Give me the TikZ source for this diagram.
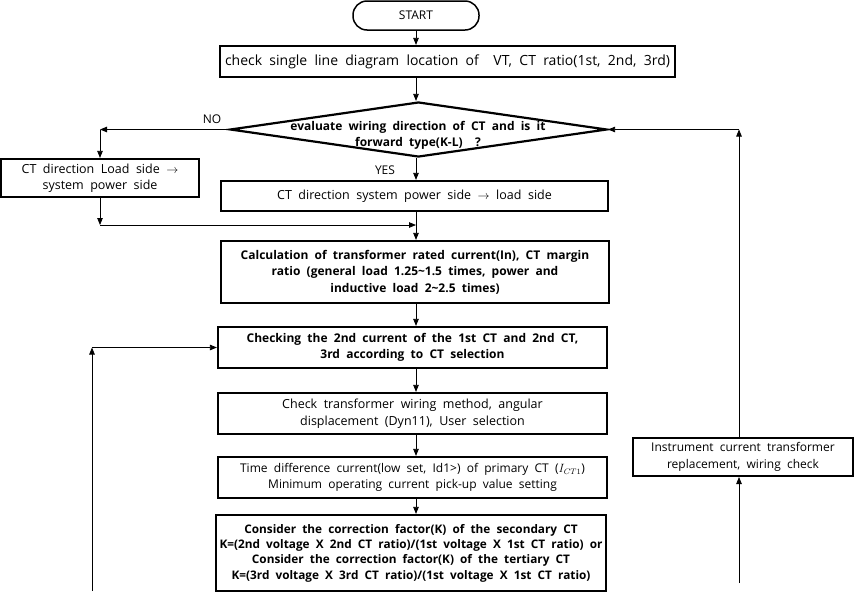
\documentclass[tikz,border=0pt]{standalone}
\usepackage{fontspec}
\setmainfont[WordSpace=2]{Open Sans}
\usetikzlibrary{arrows.meta,shapes.geometric}
\begin{document}
\begin{tikzpicture}[x=1pt,y=-1pt,
  box/.style={draw, line width=2.2pt, inner sep=0pt, align=center,
    font=\fontsize{12.5}{16.5}\selectfont},
  bbox/.style={box, font=\fontsize{12}{16.5}\selectfont\bfseries},
  arr/.style={-{Triangle[length=7pt,width=5.5pt]}, line width=0.8pt},
  lbl/.style={inner sep=0pt, font=\fontsize{12}{13}\selectfont}
]
\useasboundingbox (0,0) rectangle (861,595);
\fill[white] (0,0) rectangle (861,595);

\node[draw, line width=1.5pt, rounded corners=14pt, minimum width=126pt, minimum height=29pt,
  inner sep=0pt, font=\fontsize{12}{13}\selectfont] (start) at (416,15.5) {START};
\node[box, minimum width=455pt, minimum height=31pt, font=\fontsize{14}{16}\selectfont]
  (b1) at (447.5,61.5) {check single line diagram location of\ \ VT, CT ratio(1st, 2nd, 3rd)};
\node[draw, diamond, line width=2.2pt, inner sep=0pt, minimum width=377pt, minimum height=55pt]
  (dia) at (418.5,129.5) {};
\node[lbl, align=center, font=\fontsize{12}{16}\selectfont\bfseries] (diat) at (418,135)
  {evaluate wiring direction of CT and is it\\forward type(K-L)\ \ ?};
\node[box, minimum width=198pt, minimum height=38pt] (left) at (100,178)
  {CT direction Load side $\rightarrow$\\system power side};
\node[box, minimum width=387pt, minimum height=30pt] (ctdir) at (414.5,196)
  {CT direction system power side $\rightarrow$ load side};
\node[bbox, minimum width=388pt, minimum height=62pt] (calc) at (415,272)
  {Calculation of transformer rated current(In), CT margin\\ratio (general load 1.25\textasciitilde1.5 times, power and\\inductive load 2\textasciitilde2.5 times)};
\node[bbox, minimum width=389pt, minimum height=41pt] (chk) at (412.5,347.5)
  {Checking the 2nd current of the 1st CT and 2nd CT,\\3rd according to CT selection};
\node[box, minimum width=389pt, minimum height=41pt] (wir) at (412.5,413.5)
  {Check transformer wiring method, angular\\displacement (Dyn11), User selection};
\node[box, minimum width=389pt, minimum height=41pt, font=\fontsize{12}{16.5}\selectfont] (time) at (412.5,477.5)
  {Time difference current(low set, Id1>) of primary CT ($I_{CT1}$)\\Minimum operating current pick-up value setting};
\node[bbox, minimum width=390pt, minimum height=76pt, font=\fontsize{11.8}{15.3}\selectfont\bfseries] (cons) at (411,553)
  {Consider the correction factor(K) of the secondary CT\\K=(2nd voltage X 2nd CT ratio)/(1st voltage X 1st CT ratio) or\\Consider the correction factor(K) of the tertiary CT\\K=(3rd voltage X 3rd CT ratio)/(1st voltage X 1st CT ratio)};
\node[box, line width=2pt, minimum width=220pt, minimum height=38pt, font=\fontsize{12}{16.5}\selectfont] (inst) at (743,457)
  {Instrument current transformer\\replacement, wiring check};

\node[lbl] (no) at (212,119) {NO};
\node[lbl] (yes) at (385,170) {YES};

\coordinate (ax) at (416,0);
\coordinate (j) at (416,225);
\coordinate (rx) at (739,0);
\coordinate (rb) at (739,583);
\coordinate (lb) at (92,591);

\draw[arr] (ax |- start.south) -- (ax |- b1.north);
\draw[arr] (ax |- b1.south) -- (ax |- dia.north);
\draw[arr] (ax |- dia.south) -- (ax |- ctdir.north);
\draw[arr] (dia.west) -- (left.north |- dia.west);
\draw[arr] (left.north |- dia.west) -- (left.north);
\draw[arr] (left.south) -- (left.south |- j);
\draw[arr] (left.south |- j) -- (j);
\draw[arr] (ax |- ctdir.south) -- (ax |- calc.north);
\draw[arr] (ax |- calc.south) -- (ax |- chk.north);
\draw[arr] (ax |- chk.south) -- (ax |- wir.north);
\draw[arr] (ax |- wir.south) -- (ax |- time.north);
\draw[arr] (ax |- time.south) -- (ax |- cons.north);
\draw[arr] (rb) -- (rb |- inst.south);
\draw[arr] (rx |- inst.north) -- (rx |- dia.east);
\draw[arr] (rx |- dia.east) -- (dia.east);
\draw[arr] (lb) -- (lb |- chk.west);
\draw[arr] (lb |- chk.west) -- (chk.west);
\end{tikzpicture}
\end{document}
